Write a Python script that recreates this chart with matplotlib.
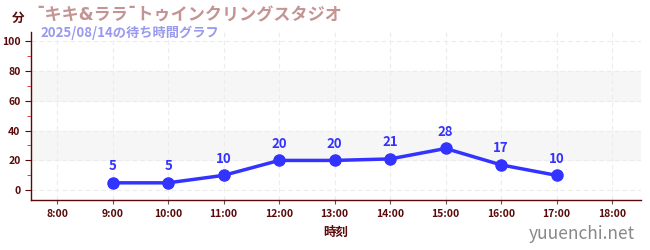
import matplotlib
matplotlib.use("Agg")
import matplotlib.pyplot as plt
from matplotlib.ticker import MultipleLocator

plt.rcParams['font.family'] = ['Noto Sans CJK JP', 'DejaVu Sans']

# data
hours = [9, 10, 11, 12, 13, 14, 15, 16, 17]
waits = [5, 5, 10, 20, 20, 21, 28, 17, 10]
tick_hours = list(range(8, 19))
tick_labels = [f"{h}:00" for h in tick_hours]
title = "¯キキ&ララ¯トゥインクリングスタジオ"
subtitle = "2025/08/14の待ち時間グラフ"

axis_col = '#5a0a0a'
line_col = '#3333ff'

fig = plt.figure(figsize=(6.5, 2.5), dpi=100)
ax = fig.add_axes([0.0477, 0.2, 0.9385, 0.672])

# shaded bands
for lo, hi in [(20, 40), (60, 80)]:
    ax.axhspan(lo, hi, color='#f6f6f6', zorder=0)

ax.plot(hours, waits, color=line_col, lw=2.5, marker='o', ms=8, zorder=3)
for h, w in zip(hours, waits):
    ax.annotate(str(w), (h, w), xytext=(0, 7), textcoords='offset points',
                ha='center', va='bottom', color=line_col, fontsize=9.5, fontweight='bold')

ax.set_xlim(7.53, 18.52)
ax.set_ylim(-6.5, 106)
ax.set_xticks(tick_hours)
ax.set_xticklabels(tick_labels)
ax.set_yticks(range(0, 101, 20))
ax.yaxis.set_minor_locator(MultipleLocator(10))

ax.grid(True, which='major', color='#ececec', ls=(0, (4, 3)), lw=0.8)
for s in ['top', 'right']:
    ax.spines[s].set_visible(False)
for s in ['left', 'bottom']:
    ax.spines[s].set_color(axis_col)
    ax.spines[s].set_linewidth(1.0)

ax.tick_params(axis='both', which='major', colors=axis_col, labelsize=7.5, length=4)
ax.tick_params(axis='y', which='minor', colors='#dd2222', length=3)
ax.tick_params(axis='x', which='major', color='#555555', length=3)
for lab in ax.get_xticklabels() + ax.get_yticklabels():
    lab.set_fontweight('bold')

ax.set_xlabel("時刻", color=axis_col, fontsize=9, fontweight='bold', labelpad=5)

fig.text(0.028, 0.928, "分", color=axis_col, fontsize=9, fontweight='bold', ha='center', va='center')
fig.text(0.056, 0.938, title, color='#c49494', fontsize=12.3, fontweight='bold', ha='left', va='center',
         family=['DejaVu Sans', 'Noto Sans CJK JP'])
fig.text(0.062, 0.87, subtitle, color='#9999ee', fontsize=9.5, fontweight='bold', ha='left', va='center')
fig.text(0.977, 0.065, "yuuenchi.net", color='#888888', fontsize=12.5, ha='right', va='center')

fig.savefig("out.png", dpi=100)
